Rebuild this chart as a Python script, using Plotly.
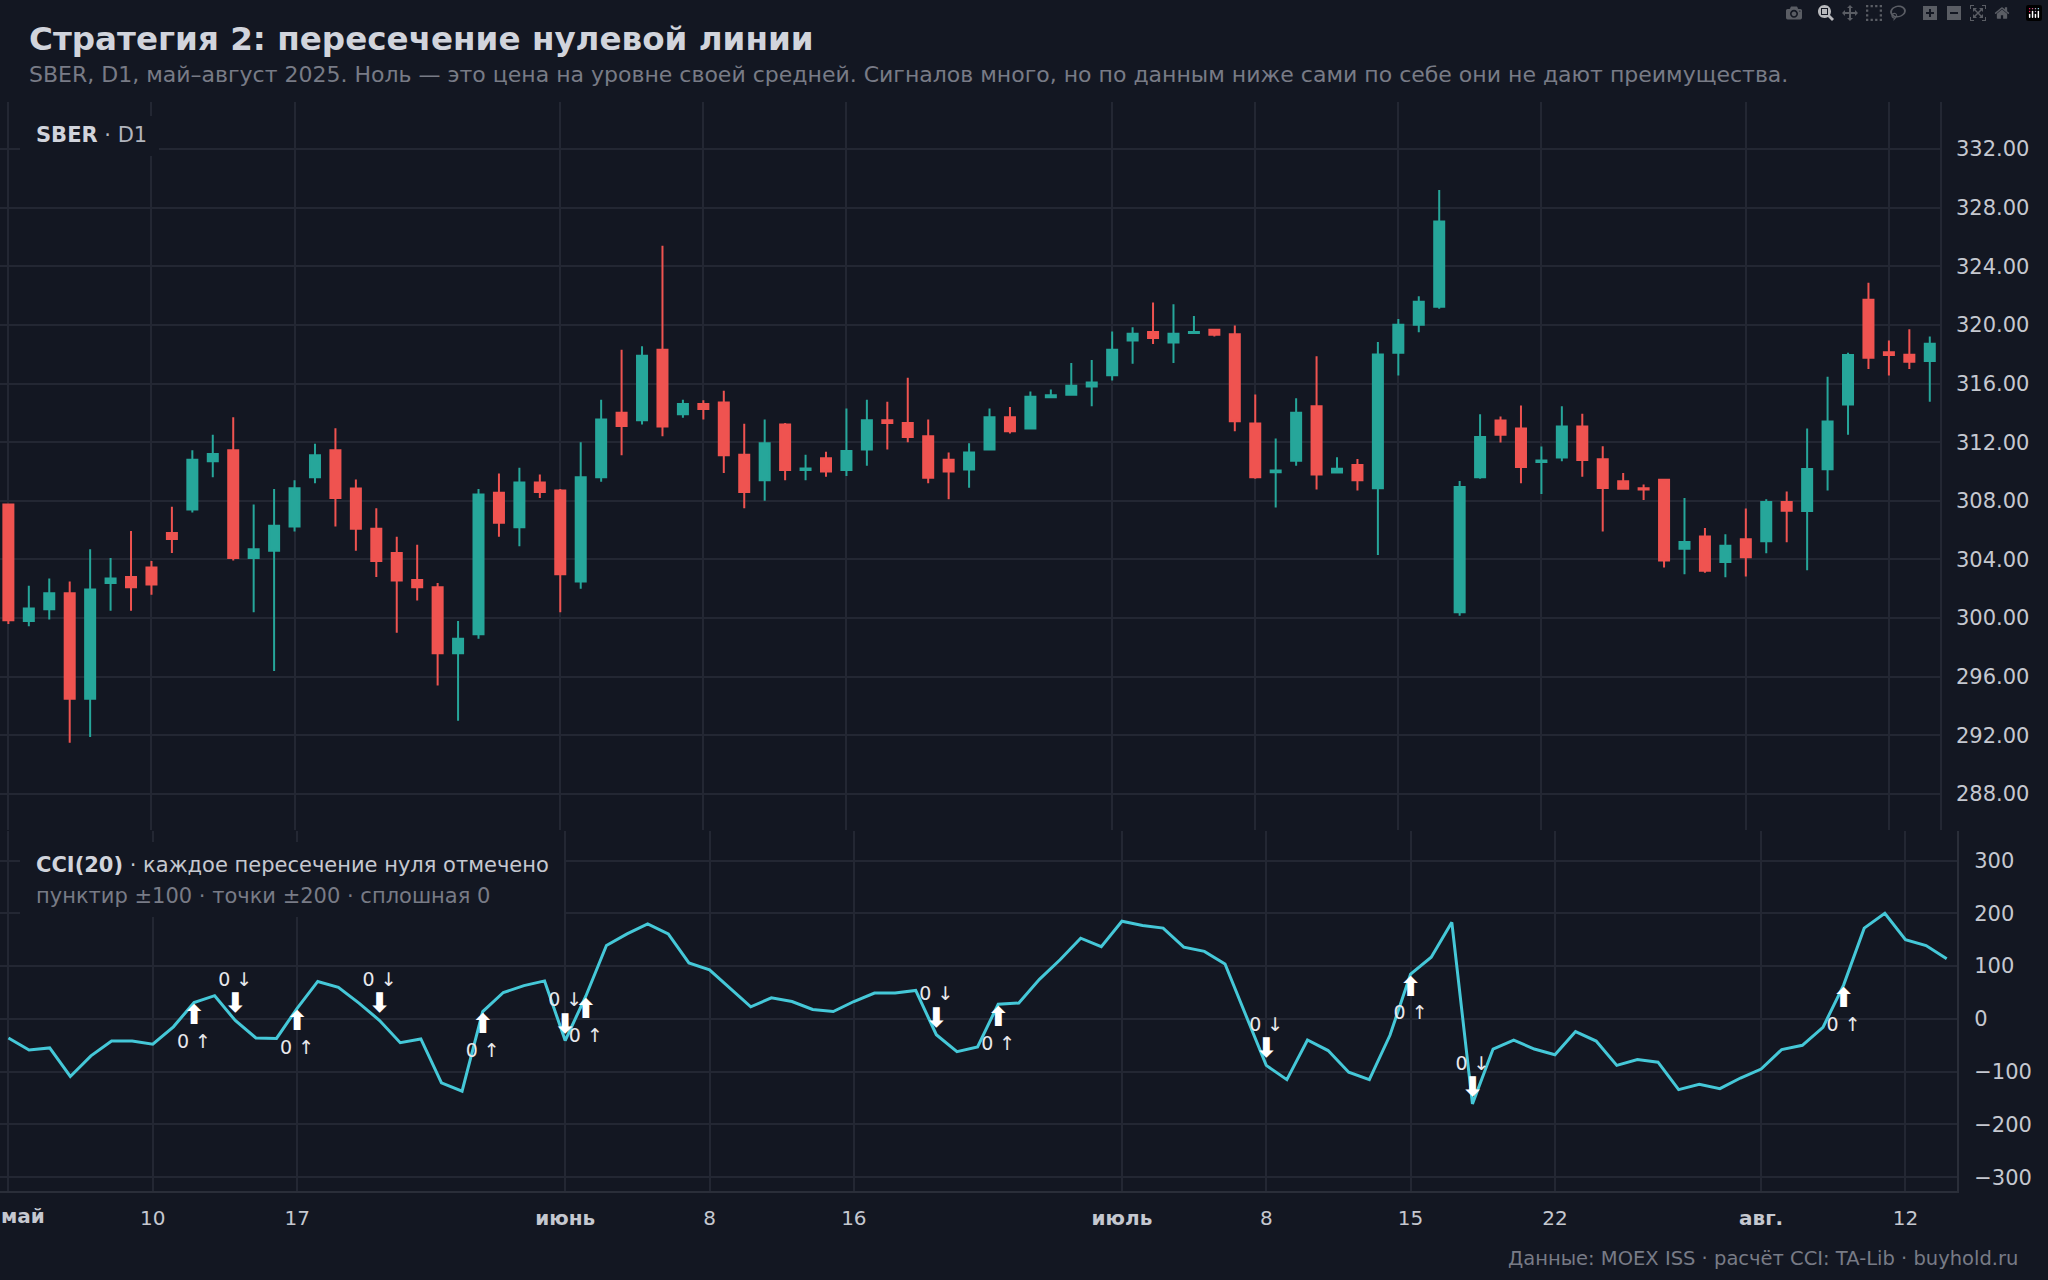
import plotly.graph_objects as go

# trading days, May-Aug 2025 (by month)
may_days = [3, 4, 5, 6, 7, 8, 9, 10, 11, 12, 13, 14, 15, 16, 17, 18, 19, 20, 21, 22, 23, 26, 27, 28, 29, 30, 31]
jun_days = [1, 2, 3, 4, 5, 6, 7, 8, 9, 10, 11, 13, 14, 15, 16, 17, 18, 19, 20, 23, 24, 25, 26, 27, 28, 29, 30]
jul_days = list(range(1, 32))
aug_days = [1, 4, 5, 6, 7, 8, 11, 12, 13, 14]

dates = ([f"2025-05-{d:02d}" for d in may_days] + [f"2025-06-{d:02d}" for d in jun_days]
         + [f"2025-07-{d:02d}" for d in jul_days] + [f"2025-08-{d:02d}" for d in aug_days])

opens = [307.75, 299.8, 300.6, 301.7, 294.5, 302.4, 302.8, 303.45, 305.8, 307.4,
         310.7, 311.45, 304.1, 304.6, 306.25, 309.6, 311.45, 308.84, 306.1, 304.45,
         302.6, 302.1, 297.6, 298.9, 308.55, 306.2, 309.25, 308.7, 302.5, 309.6,
         314.0, 313.5, 318.3, 313.9, 314.6, 314.7, 311.14, 309.4, 313.2, 310.1,
         310.9, 310.1, 311.5, 313.5, 313.3, 312.4, 310.8, 310.14, 311.5, 313.7,
         312.93, 315.07, 315.23, 315.8, 316.57, 318.93, 319.52, 318.8, 319.45, 319.66,
         319.36, 313.27, 309.95, 310.73, 314.45, 309.93, 310.45, 308.86, 318.1, 320.0,
         321.23, 300.4, 309.6, 313.48, 312.93, 310.65, 310.96, 313.07, 310.83, 309.33,
         308.85, 309.44, 304.73, 305.56, 303.82, 305.38, 305.25, 307.92, 307.31, 310.15,
         314.57, 321.71, 318.13, 317.97, 317.54]
highs = [307.8, 302.2, 302.7, 302.5, 304.7, 304.1, 305.95, 303.9, 307.6, 311.45,
         312.5, 313.7, 307.75, 308.8, 309.4, 311.9, 312.95, 309.45, 307.5, 305.55,
         305.0, 302.4, 299.8, 308.8, 309.86, 310.25, 309.8, 308.8, 312.0, 314.9,
         318.3, 318.55, 325.4, 314.9, 314.86, 315.5, 313.25, 313.55, 313.3, 311.14,
         311.34, 314.3, 314.9, 314.75, 316.4, 313.55, 311.3, 311.93, 314.3, 314.4,
         315.45, 315.6, 317.4, 317.6, 319.55, 319.84, 321.52, 321.4, 320.6, 319.73,
         319.95, 315.25, 312.25, 315.0, 317.86, 310.98, 310.86, 318.84, 320.4, 321.95,
         329.2, 309.36, 313.9, 313.75, 314.5, 311.7, 314.45, 313.93, 311.73, 309.9,
         309.12, 309.44, 308.2, 306.15, 305.72, 307.47, 308.1, 308.63, 312.93, 316.47,
         318.1, 322.87, 318.94, 319.7, 319.2]
lows = [299.6, 299.45, 299.9, 291.5, 291.9, 300.5, 300.5, 301.6, 304.45, 307.2,
        309.6, 303.93, 300.4, 296.4, 305.9, 309.2, 306.25, 304.6, 302.8, 299.0,
        301.2, 295.4, 293.0, 298.6, 305.55, 304.9, 308.2, 300.4, 302.0, 309.3,
        311.1, 313.2, 312.4, 313.66, 313.55, 309.9, 307.5, 308.0, 309.4, 309.4,
        309.64, 309.7, 310.4, 311.5, 312.0, 309.2, 308.1, 308.9, 311.45, 312.6,
        312.86, 315.0, 315.16, 314.45, 316.2, 317.34, 318.7, 317.4, 319.45, 319.2,
        312.75, 309.5, 307.55, 310.4, 308.77, 309.93, 308.7, 304.3, 316.55, 319.5,
        321.1, 300.16, 309.5, 311.98, 309.2, 308.47, 310.7, 309.65, 305.9, 308.83,
        308.06, 303.45, 303.0, 303.1, 302.78, 302.84, 304.43, 305.18, 303.27, 308.7,
        312.5, 316.99, 316.54, 316.99, 314.75]
closes = [299.85, 300.65, 301.7, 294.5, 301.95, 302.7, 302.1, 302.3, 305.4, 310.8,
          311.2, 304.1, 304.7, 306.3, 308.85, 311.1, 308.2, 306.1, 303.9, 302.57,
          302.1, 297.6, 298.6, 308.43, 306.5, 309.25, 308.6, 303.0, 309.6, 313.55,
          313.1, 317.9, 313.07, 314.6, 314.27, 311.1, 308.6, 311.93, 310.1, 310.2,
          310.0, 311.4, 313.5, 313.3, 312.36, 309.57, 310.0, 311.3, 313.7, 312.75,
          315.1, 315.2, 315.84, 316.07, 318.3, 319.4, 319.1, 319.4, 319.52, 319.32,
          313.43, 309.6, 310.07, 314.0, 309.8, 310.18, 309.4, 317.98, 320.0, 321.57,
          327.05, 308.95, 312.36, 312.5, 310.3, 310.75, 313.07, 310.78, 308.88, 308.83,
          308.78, 303.93, 305.2, 303.23, 304.93, 304.16, 307.92, 307.33, 310.17, 313.41,
          317.95, 317.76, 317.95, 317.49, 318.72]

cci = [-36, -59, -55, -109, -70, -42, -42, -48, -15, 31,
       44, -3, -36, -37, 20, 71, 60, 30, -3, -45,
       -38, -121, -137, 14, 50, 63, 72, -41, 43, 139,
       161, 180, 161, 106, 93, 58, 23, 40, 33, 18,
       14, 33, 49, 49, 54, -30, -62, -53, 28, 30,
       75, 112, 153, 137, 185, 177, 172, 136, 128, 104,
       8, -88, -115, -40, -60, -101, -115, -31, 85, 117,
       183, -161, -57, -40, -57, -68, -24, -42, -88, -77,
       -82, -134, -124, -132, -112, -95, -58, -50, -16, 64,
       172, 200, 150, 139, 114]

tick_dates = ["2025-05-03", "2025-05-10", "2025-05-17", "2025-06-01", "2025-06-08", "2025-06-16",
              "2025-07-01", "2025-07-08", "2025-07-15", "2025-07-22", "2025-08-01", "2025-08-12"]
tick_labels = ["<b>май</b>", "10", "17", "<b>июнь</b>", "8", "16",
               "<b>июль</b>", "8", "15", "22", "<b>авг.</b>", "12"]

BG = "#131722"
GRID = "#232733"
TXT = "#c5c8d0"
MUTED = "#787b86"
UP = "#26a69a"
DOWN = "#ef5350"
CCI_COLOR = "#45c8d8"
FONT = "DejaVu Sans"
W, H = 2048, 1280

# zero crossings
ups = [i for i in range(1, len(cci)) if cci[i - 1] < 0 <= cci[i]]
downs = [i for i in range(1, len(cci)) if cci[i - 1] >= 0 > cci[i]]

fig = go.Figure()

fig.add_trace(go.Candlestick(
    x=dates, open=opens, high=highs, low=lows, close=closes,
    xaxis="x", yaxis="y", whiskerwidth=0,
    increasing=dict(line=dict(color=UP, width=2), fillcolor=UP),
    decreasing=dict(line=dict(color=DOWN, width=2), fillcolor=DOWN),
    showlegend=False,
))

fig.add_trace(go.Scatter(
    x=dates, y=cci, xaxis="x2", yaxis="y2", mode="lines",
    line=dict(color=CCI_COLOR, width=3), showlegend=False,
))

# arrows at each crossing, with a "0 ↑ / 0 ↓" tag
fig.add_trace(go.Scatter(
    x=[dates[i] for i in ups], y=[cci[i] - 28 for i in ups], xaxis="x2", yaxis="y2",
    mode="text", text=["<b>⬆</b>"] * len(ups), textposition="middle center",
    textfont=dict(family=FONT, size=27, color="white"), showlegend=False,
))
fig.add_trace(go.Scatter(
    x=[dates[i] for i in ups], y=[cci[i] - 77 for i in ups], xaxis="x2", yaxis="y2",
    mode="text", text=["0 ↑"] * len(ups), textposition="middle center",
    textfont=dict(family=FONT, size=19, color="#e8e8ec"), showlegend=False,
))
fig.add_trace(go.Scatter(
    x=[dates[i] for i in downs], y=[cci[i] + 28 for i in downs], xaxis="x2", yaxis="y2",
    mode="text", text=["<b>⬇</b>"] * len(downs), textposition="middle center",
    textfont=dict(family=FONT, size=27, color="white"), showlegend=False,
))
fig.add_trace(go.Scatter(
    x=[dates[i] for i in downs], y=[cci[i] + 74 for i in downs], xaxis="x2", yaxis="y2",
    mode="text", text=["0 ↓"] * len(downs), textposition="middle center",
    textfont=dict(family=FONT, size=19, color="#e8e8ec"), showlegend=False,
))

# CCI reference levels
for lvl, dash, col, wd in [(200, "2px,2px", "#7d818c", 1), (-200, "2px,2px", "#7d818c", 1),
                           (100, "4px,4px", "#a9adb6", 1.5), (-100, "4px,4px", "#a9adb6", 1.5),
                           (0, "solid", "#d6d9df", 1.5)]:
    fig.add_shape(type="line", xref="x2 domain", yref="y2", x0=0, x1=1, y0=lvl, y1=lvl,
                  line=dict(color=col, width=wd, dash=dash), layer="below")

# label boxes hiding the grid
fig.add_shape(type="rect", xref="paper", yref="paper", x0=20 / W, x1=159 / W,
              y0=1 - 156 / H, y1=1 - 116 / H, fillcolor=BG, line=dict(width=0), layer="above")
fig.add_shape(type="rect", xref="paper", yref="paper", x0=20 / W, x1=564 / W,
              y0=1 - 917 / H, y1=1 - 842 / H, fillcolor=BG, line=dict(width=0), layer="above")

annotations = [
    dict(text="<b>Стратегия 2: пересечение нулевой линии</b>", x=27 / W, y=1 - 39 / H,
         font=dict(size=32.6, color="#d1d4dc")),
    dict(text="SBER, D1, май–август 2025. Ноль — это цена на уровне своей средней. "
              "Сигналов много, но по данным ниже сами по себе они не дают преимущества.",
         x=27 / W, y=1 - 74 / H, font=dict(size=22, color=MUTED)),
    dict(text="<b>SBER</b> <span style='color:#b2b5be'>· D1</span>", x=34 / W, y=1 - 135 / H,
         font=dict(size=21, color="#d1d4dc")),
    dict(text="<b>CCI(20)</b> <span style='color:#c5c8d0'>· каждое пересечение нуля отмечено</span>",
         x=34 / W, y=1 - 865 / H, font=dict(size=21, color="#d1d4dc")),
    dict(text="пунктир ±100 · точки ±200 · сплошная 0", x=34 / W, y=1 - 896 / H,
         font=dict(size=21, color=MUTED)),
    dict(text="Данные: MOEX ISS · расчёт CCI: TA-Lib · buyhold.ru", x=2020 / W, y=1 - 1258 / H,
         xanchor="right", font=dict(size=19.5, color=MUTED)),
    # first month label sits flush with the left edge
    dict(text=tick_labels[0], x=0, y=1 - 1216 / H, font=dict(size=20, color=TXT), borderpad=0),
]
for a in annotations:
    a.setdefault("xanchor", "left")
    fig.add_annotation(xref="paper", yref="paper", yanchor="middle", showarrow=False, **a)

x_range = [-0.41, 94.5]
fig.update_layout(
    width=W, height=H,
    paper_bgcolor=BG, plot_bgcolor=BG,
    margin=dict(l=0, r=0, t=0, b=0, autoexpand=False),
    showlegend=False,
    font=dict(family=FONT, color=TXT, size=20),
    xaxis=dict(domain=[0, 1940 / W], anchor="y", type="category", range=x_range, automargin=False,
               tickvals=tick_dates, showticklabels=False, gridcolor=GRID, gridwidth=1.5,
               zeroline=False, showline=False, rangeslider=dict(visible=False)),
    yaxis=dict(domain=[1 - 830 / H, 1 - 102 / H], anchor="x", side="right", automargin=False,
               range=[285.55, 335.2], tick0=288, dtick=4, tickformat=".2f",
               gridcolor=GRID, gridwidth=1.5, zeroline=False, showline=True, linecolor=GRID,
               linewidth=1.5, ticklabelstandoff=10, tickfont=dict(size=21, color=TXT)),
    xaxis2=dict(domain=[0, 1957 / W], anchor="y2", type="category", range=x_range, automargin=False,
                tickvals=tick_dates, ticktext=[""] + tick_labels[1:], gridcolor=GRID, gridwidth=1.5,
                zeroline=False, showline=True, linecolor="#2a2e39", linewidth=2,
                ticklabelstandoff=8, tickfont=dict(size=20, color=TXT)),
    yaxis2=dict(domain=[1 - 1191 / H, 1 - 831 / H], anchor="x2", side="right", automargin=False,
                range=[-326, 356], tickvals=[-300, -200, -100, 0, 100, 200, 300],
                gridcolor=GRID, gridwidth=1.5, zeroline=False, showline=True, linecolor="#2a2e39",
                linewidth=2, ticklabelstandoff=11, tickfont=dict(size=21, color=TXT)),
)

fig.write_html("out.html", post_script="document.body.style.margin='0';")
